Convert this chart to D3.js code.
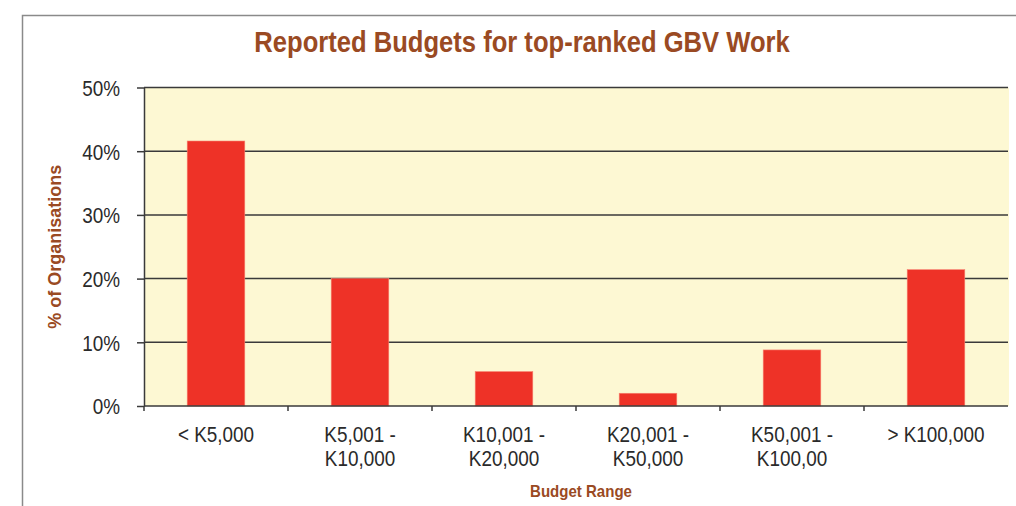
<!DOCTYPE html>
<html>
<head>
<meta charset="utf-8">
<script src="https://cdn.jsdelivr.net/npm/d3@7"></script>
<style>
	body { margin: 0; background: #fff; }
	svg { display: block; }
	text { font-family: "Liberation Sans", Arial, sans-serif; }
</style>
</head>
<body>
<svg id="chart" width="1016" height="506" viewBox="0 0 1016 506"></svg>
<script>
// chart data
const categories = [["< K5,000"], ["K5,001 -", "K10,000"], ["K10,001 -", "K20,000"], ["K20,001 -", "K50,000"], ["K50,001 -", "K100,00"], ["> K100,000"]];
const shares = [41.6, 20.0, 5.4, 2.0, 8.8, 21.4];
const yTicks = [0, 10, 20, 30, 40, 50];

const svg = d3.select("#chart");
const margin = {left: 144, right: 1008, top: 87.5, bottom: 406};
const brown = "#9a4a23";
const narrow = 0.86; // squeeze text to mimic a narrow face

// outer frame (only top and left edges visible)
svg.append("path")
	.attr("d", "M22.5,506 V15.5 H1016")
	.attr("fill", "none")
	.attr("stroke", "#8a8a8a")
	.attr("stroke-width", 1.5);

const x = d3.scaleBand()
	.domain(d3.range(categories.length))
	.range([margin.left, margin.right])
	.paddingInner(0.6)
	.paddingOuter(0.3);

const y = d3.scaleLinear()
	.domain([0, 50])
	.range([margin.bottom, margin.top]);

// plot area
svg.append("rect")
	.attr("x", margin.left)
	.attr("y", margin.top)
	.attr("width", margin.right - margin.left + 1)
	.attr("height", margin.bottom - margin.top)
	.attr("fill", "#fdf8d3");

// gridlines
svg.append("g").selectAll("line")
	.data(yTicks.filter(d => d > 0))
	.enter().append("line")
	.attr("x1", margin.left)
	.attr("x2", margin.right)
	.attr("y1", d => y(d))
	.attr("y2", d => y(d))
	.attr("stroke", "#3a3a3a")
	.attr("stroke-width", 1.5);

// bars
svg.append("g").selectAll("rect")
	.data(shares)
	.enter().append("rect")
	.attr("x", (d, i) => x(i))
	.attr("y", d => y(d))
	.attr("width", x.bandwidth())
	.attr("height", d => y(0) - y(d))
	.attr("fill", "#ee3227")
	.attr("stroke", "#f7806f")
	.attr("stroke-width", 0.6);

// y axis
const yAxis = svg.append("g")
	.attr("transform", "translate(" + margin.left + ",0)")
	.call(d3.axisLeft(y).tickValues(yTicks).tickSize(7).tickSizeOuter(0).tickPadding(17).tickFormat(d => d + "%"));
yAxis.select(".domain").attr("stroke", "#3a3a3a").attr("stroke-width", 1.5);
yAxis.selectAll(".tick line").attr("stroke", "#3a3a3a").attr("stroke-width", 1.5);
yAxis.selectAll(".tick text")
	.attr("fill", "#2a2a2a")
	.style("font-size", "22px")
	.attr("dy", "0.36em")
	.attr("transform", function() {
		return "translate(" + d3.select(this).attr("x") + ",0) scale(" + narrow + ",1)";
	})
	.attr("x", 0);

// x axis line with boundary ticks
const xAxis = svg.append("g");
xAxis.append("line")
	.attr("x1", margin.left)
	.attr("x2", margin.right)
	.attr("y1", y(0))
	.attr("y2", y(0))
	.attr("stroke", "#3a3a3a")
	.attr("stroke-width", 1.5);
xAxis.selectAll(".xtick")
	.data(d3.range(categories.length))
	.enter().append("line")
	.attr("class", "xtick")
	.attr("x1", i => x(i) - x.step() * x.paddingInner() / 2)
	.attr("x2", i => x(i) - x.step() * x.paddingInner() / 2)
	.attr("y1", y(0))
	.attr("y2", y(0) + 5)
	.attr("stroke", "#3a3a3a")
	.attr("stroke-width", 1.5);

xAxis.selectAll(".xlabel")
	.data(categories)
	.enter().append("text")
	.attr("class", "xlabel")
	.attr("text-anchor", "middle")
	.attr("fill", "#2a2a2a")
	.style("font-size", "22px")
	.attr("transform", (d, i) => "translate(" + (x(i) + x.bandwidth() / 2) + ",0) scale(" + narrow + ",1)")
	.each(function(lines) {
		d3.select(this).selectAll("tspan")
			.data(lines)
			.enter().append("tspan")
			.attr("x", 0)
			.attr("y", (d, j) => 442 + j * 24)
			.text(d => d);
	});

// titles
svg.append("text")
	.attr("transform", "translate(522,52) scale(0.853,1)")
	.attr("text-anchor", "middle")
	.attr("fill", brown)
	.style("font-size", "30px")
	.style("font-weight", "bold")
	.text("Reported Budgets for top-ranked GBV Work");

svg.append("text")
	.attr("transform", "translate(581,497) scale(0.94,1)")
	.attr("text-anchor", "middle")
	.attr("fill", brown)
	.style("font-size", "16px")
	.style("font-weight", "bold")
	.text("Budget Range");

svg.append("text")
	.attr("transform", "translate(61," + (margin.top + margin.bottom) / 2 + ") rotate(-90)")
	.attr("text-anchor", "middle")
	.attr("fill", brown)
	.style("font-size", "18px")
	.style("font-weight", "bold")
	.text("% of Organisations");
</script>
</body>
</html>
